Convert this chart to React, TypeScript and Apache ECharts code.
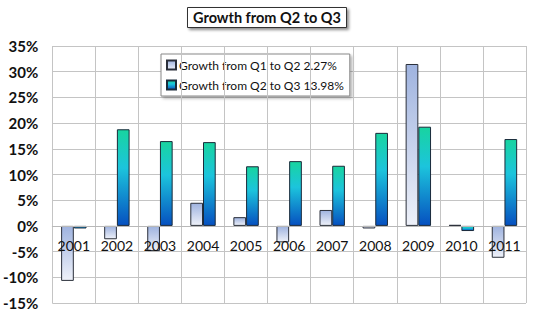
import React, { useEffect, useRef } from "react";
import * as echarts from "echarts";

const years = ["2001", "2002", "2003", "2004", "2005", "2006", "2007", "2008", "2009", "2010", "2011"];
const q1ToQ2 = [-10.7, -2.6, -4.9, 4.5, 1.7, -3.2, 3.1, -0.5, 31.5, 0.2, -6.2];
const q2ToQ3 = [-0.5, 18.8, 16.5, 16.3, 11.6, 12.6, 11.7, 18.1, 19.3, -1.0, 16.9];
const seriesNames = ["Growth from Q1 to Q2 2.27%", "Growth from Q2 to Q3 13.98%"];
const titleText = "Growth from Q2 to Q3";

const FONT = "Lato, 'Noto Sans', sans-serif";

export default function App() {
  const ref = useRef<HTMLDivElement>(null);
  useEffect(() => {
    if (!ref.current) return;
    const chart = echarts.init(ref.current, undefined, { renderer: "svg" });
    const lightGrad = new echarts.graphic.LinearGradient(0, 0, 0, 1, [
      { offset: 0, color: "#9fb3df" },
      { offset: 1, color: "#eef1f9" },
    ]);
    const tealGrad = new echarts.graphic.LinearGradient(0, 0, 0, 1, [
      { offset: 0, color: "#18d4a0" },
      { offset: 0.4, color: "#1cc4dc" },
      { offset: 1, color: "#0650c0" },
    ]);
    chart.setOption({
      animation: false,
      backgroundColor: "#ffffff",
      textStyle: { fontFamily: FONT },
      title: {
        text: titleText,
        left: "center",
        top: 7,
        padding: [3, 6, 3, 6],
        borderColor: "#333",
        borderWidth: 1,
        backgroundColor: "#fff",
        shadowColor: "rgba(0,0,0,0.45)",
        shadowBlur: 3,
        shadowOffsetX: 2,
        shadowOffsetY: 2,
        textStyle: { fontFamily: FONT, fontSize: 14.5, fontWeight: "bold", color: "#111" },
      },
      legend: {
        orient: "vertical",
        left: 161,
        top: 54,
        padding: [5, 6, 5, 5],
        itemGap: 8,
        itemWidth: 9,
        itemHeight: 9,
        icon: "rect",
        borderColor: "#888",
        borderWidth: 1,
        backgroundColor: "#fff",
        shadowColor: "rgba(0,0,0,0.3)",
        shadowBlur: 3,
        shadowOffsetX: 2,
        shadowOffsetY: 2,
        textStyle: { fontFamily: FONT, fontSize: 12, color: "#111", padding: [0, 0, 0, -2] },
        data: seriesNames,
      },
      grid: { left: 50, right: 8, top: 46, bottom: 27, containLabel: false },
      xAxis: {
        type: "category",
        data: years,
        offset: -77,
        axisLine: { show: true, onZero: false, lineStyle: { color: "#b8b8b8" } },
        axisTick: { show: false },
        splitLine: { show: true, lineStyle: { color: "#c4c4c4", width: 1 } },
        axisLabel: { fontFamily: FONT, fontSize: 14, color: "#111", margin: 12 },
        z: 10,
      },
      yAxis: {
        type: "value",
        min: -15,
        max: 35,
        interval: 5,
        axisLine: { show: false },
        axisTick: { show: false },
        splitLine: { show: true, lineStyle: { color: "#c4c4c4", width: 1 } },
        axisLabel: {
          fontFamily: FONT,
          fontSize: 15,
          fontWeight: "bold",
          color: "#111",
          margin: 14,
          formatter: (v: number) => `${v}%`,
        },
      },
      series: [
        {
          name: seriesNames[0],
          type: "bar",
          data: q1ToQ2,
          barGap: "0%",
          barCategoryGap: "41%",
          itemStyle: { color: lightGrad, borderColor: "#2a2f3a", borderWidth: 1 },
        },
        {
          name: seriesNames[1],
          type: "bar",
          data: q2ToQ3,
          barGap: "0%",
          barCategoryGap: "41%",
          itemStyle: { color: tealGrad, borderColor: "#1a2a3a", borderWidth: 1 },
        },
      ],
    });
    return () => chart.dispose();
  }, []);
  return (
    <div
      ref={ref}
      style={{ position: "fixed", left: 0, top: 0, width: 534, height: 330 }}
    />
  );
}
